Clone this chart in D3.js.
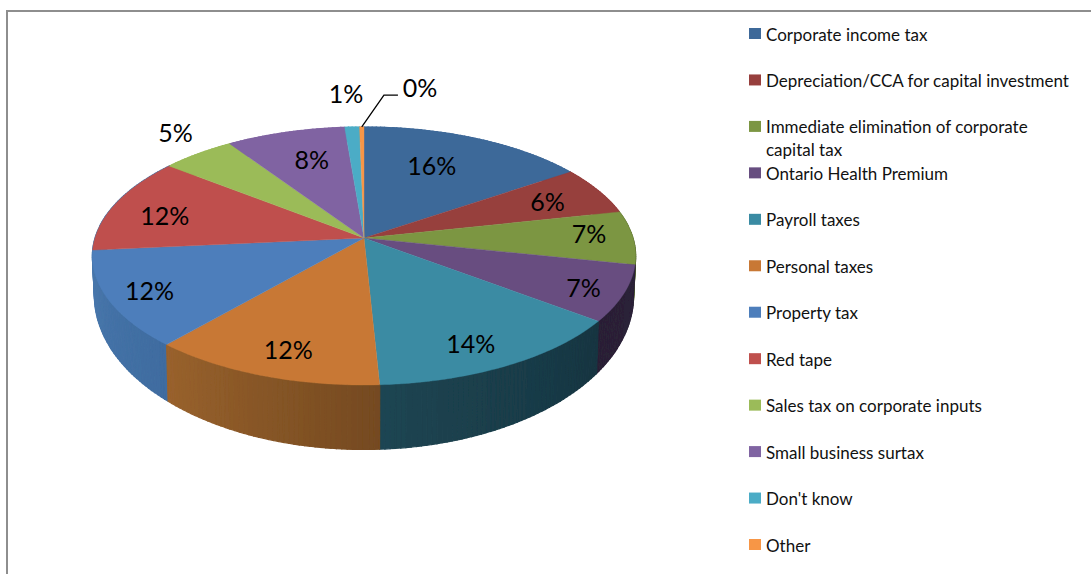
<!DOCTYPE html>
<html><head><meta charset="utf-8">
<script src="https://cdnjs.cloudflare.com/ajax/libs/d3/7.8.5/d3.min.js"></script>
<style>html,body{margin:0;padding:0;background:#fff;overflow:hidden}svg{display:block}</style>
</head><body><svg id="c" width="1091" height="574"></svg>
<script>
const categories = ["Corporate income tax","Depreciation/CCA for capital investment","Immediate elimination of corporate|capital tax","Ontario Health Premium","Payroll taxes","Personal taxes","Property tax","Red tape","Sales tax on corporate inputs","Small business surtax","Don't know","Other"];
const values = [15.5,6.1,6.7,7.0,13.9,12.2,12.1,12.1,5.0,8.1,1,0.3];
const valueLabels = ["16%","6%","7%","7%","14%","12%","12%","12%","5%","8%","1%","0%"];
const topColors = ["#3e6999","#973f3d","#7c9643","#674e80","#3a8ba3","#c87835","#4d7ebb","#bf504d","#9bbb59","#8064a2","#4bacc6","#f79646"];
const sideFrom = ["#3e6999","#973f3d","#6f873c","#2c2139","#173541","#754a20","#3f6ca0","#4a79ae","#9bbb59","#8064a2","#4bacc6","#f79646"];
const sideTo   = ["#3e6999","#973f3d","#4a5a28","#2a2036","#1d4552","#99622d","#4a79ae","#4a79ae","#9bbb59","#8064a2","#4bacc6","#f79646"];
const labelRadial = [.68,.77,.84,.86,.828,.83,.85,.78,1.23,.707,1.356,1.44];
const labelShiftDeg = [-4.2,.6,-1.8,1.5,2.5,-1.5,-.4,-3.2,2.7,1.8,-.5,10.5];

const svg = d3.select("#c");
const blur = svg.append("defs").append("filter").attr("id","soft").attr("x","-5%").attr("y","-5%").attr("width","110%").attr("height","110%");
blur.append("feGaussianBlur").attr("stdDeviation",0.55);
// frame
svg.append("path").attr("d","M1091 11H7V574").attr("fill","none").attr("stroke","#8e8e8e").attr("stroke-width",2);

// perspective planes of the disc
const cx = 364;
const topPlane = {cy:238,a:269,b:126.5,k:.1394};
const botPlane = {cy:274,a:267,b:151,k:.1394};
function project(p,ang,r){
  const u=r*Math.sin(ang), v=-r*Math.cos(ang), d=1-p.k*v;
  return [cx+p.a*u/d, p.cy+p.b*v/d];
}
const line = d3.line();
const arcs = d3.pie().sort(null).value(d=>d)(values);
const STEP = Math.PI/180;
function samples(a){
  const n=Math.max(1,Math.ceil((a.endAngle-a.startAngle)/STEP));
  return d3.range(n+1).map(i=>a.startAngle+(a.endAngle-a.startAngle)*i/n);
}
const pie3d = svg.append("g").attr("filter","url(#soft)");
// side wall: quads back to front
const quads=[];
arcs.forEach((a,i)=>{
  const s=samples(a);
  for(let j=0;j<s.length-1;j++){
    const m=(s[j]+s[j+1])/2;
    quads.push({a0:s[j],a1:s[j+1],depth:-Math.cos(m),
      col:d3.interpolateRgb(sideFrom[i],sideTo[i])((j+.5)/(s.length-1))});
  }
});
quads.sort((p,q)=>p.depth-q.depth);
pie3d.append("g").selectAll("path").data(quads).join("path")
  .attr("d",q=>line([project(topPlane,q.a0,1),project(topPlane,q.a1,1),project(botPlane,q.a1,1),project(botPlane,q.a0,1)])+"Z")
  .attr("fill",q=>q.col).attr("stroke",q=>q.col).attr("stroke-width",1.2);
// top face
pie3d.append("g").selectAll("path").data(arcs).join("path")
  .attr("d",a=>line([project(topPlane,0,0),...samples(a).map(t=>project(topPlane,t,1))])+"Z")
  .attr("fill",(a,i)=>topColors[i]).attr("stroke",(a,i)=>topColors[i]).attr("stroke-width",.4);
// value labels
const labelPos=arcs.map((a,i)=>project(topPlane,(a.startAngle+a.endAngle)/2+labelShiftDeg[i]*Math.PI/180,labelRadial[i]));
svg.append("g").selectAll("text").data(valueLabels).join("text")
  .attr("x",(d,i)=>labelPos[i][0]).attr("y",(d,i)=>labelPos[i][1]+9)
  .attr("text-anchor","middle").attr("font-family","Lato, sans-serif").attr("font-size",25).attr("fill","#000")
  .text(d=>d);
// leader to the last label
const lastArc=arcs[arcs.length-1], lastPos=labelPos[labelPos.length-1];
const edge=project(topPlane,(lastArc.startAngle+lastArc.endAngle)/2,1);
svg.append("path").attr("d",line([edge,[lastPos[0]-36,lastPos[1]+7],[lastPos[0]-22,lastPos[1]+7]]))
  .attr("fill","none").attr("stroke","#000").attr("stroke-width",1.3);
// legend
const y=d3.scaleLinear().domain([0,11]).range([35,546]);
const leg=svg.append("g").selectAll("g").data(categories).join("g").attr("transform",(d,i)=>`translate(749,${y(i)})`);
leg.append("rect").attr("x",0).attr("y",-7).attr("width",12).attr("height",11).attr("fill",(d,i)=>topColors[i]);
leg.each(function(d){
  d.split("|").forEach((t,j)=>d3.select(this).append("text").attr("x",17).attr("y",5.5+j*22.5)
    .attr("font-family","Lato, sans-serif").attr("font-size",17).attr("fill","#111").text(t));
});
</script></body></html>
